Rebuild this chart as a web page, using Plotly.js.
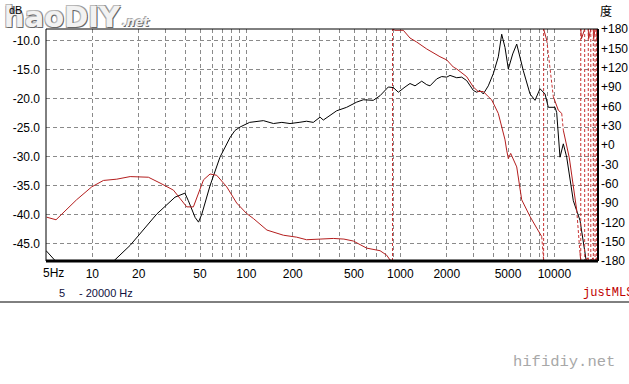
<!DOCTYPE html>
<html>
<head>
<meta charset="utf-8">
<script src="https://cdn.plot.ly/plotly-3.0.1.min.js"></script>
<style>html,body{margin:0;padding:0;background:#fff;}#chart{width:629px;height:384px;}</style>
</head>
<body>
<div id="chart"></div>
<script>
// ---- Data ----
const magFreq = [5, 5.9, 9, 13.7, 17.6, 20.4, 26.2, 34.4, 37.1, 39.9, 42, 46.5, 48.9, 51.4, 58.1, 67.4, 78.4, 84.3, 91, 105, 129, 150, 170, 192, 220, 246, 272, 301, 316, 349, 386, 448, 521, 575, 667, 738, 835, 900, 970, 1072, 1155, 1245, 1376, 1483, 1558, 1722, 1856, 2000, 2101, 2322, 2502, 2696, 2833, 2977, 3131, 3290, 3456, 3724, 4013, 4325, 4549, 4781, 5023, 5364, 5696, 6287, 6950, 7487, 8069, 8694, 9134, 10097, 10351, 10880, 11432, 12023, 13273, 14672, 16218, 17000];
const magDb = [-46.2, -48.3, -52, -48.05, -45.3, -43.3, -39.9, -37.0, -36.7, -36.3, -37.6, -40.5, -41.3, -39.9, -35.0, -30.1, -26.7, -25.5, -24.9, -24.1, -23.8, -24.3, -24.1, -24.3, -24.1, -23.9, -24.1, -23.2, -23.7, -22.9, -22.1, -21.5, -20.6, -20.2, -20.3, -19.5, -18.0, -18.1, -18.9, -18.0, -17.4, -17.8, -17.0, -17.6, -17.8, -16.6, -16.2, -16.3, -16.0, -16.4, -16.3, -16.9, -17.8, -18.6, -18.9, -18.6, -19.2, -17.8, -15.7, -12.8, -8.9, -11.2, -14.9, -12.3, -10.6, -15.2, -19.2, -20.3, -18.3, -19.2, -21.5, -21.5, -22.4, -30.1, -27.8, -30.1, -37.6, -41.0, -48.5, -52];

const phaseFreq = [5.05, 5.81, 7.9, 9.9, 11.8, 14.4, 17.6, 23.1, 27.5, 33.6, 37.1, 41, 45.3, 48.8, 52.7, 58.1, 64.2, 74.6, 86.5, 100, 111, 136, 174, 212, 246, 301, 367, 430, 495, 604, 738, 815, 857, 923, 1045, 1155, 1272, 1483, 1808, 2000, 2207, 2322, 2696, 2977, 3200, 3456, 3724, 3918, 4325, 4549, 4781, 4900, 5023, 5205, 5696, 6136, 6950, 7680, 8276, 8477, 8550, 8917, 9370, 9846, 10607, 11162, 11432, 12500, 13966, 14672, 15000, 16500, 16700, 17800, 18000, 18750, 18900, 19200];
const phaseDeg = [-112, -116, -85, -65, -55, -53, -49, -50, -59, -70, -83, -96, -96, -75, -54, -45, -47, -65, -90, -106, -114, -132, -140, -143, -147, -146, -145, -146, -149, -160, -164, -171, -178.5, 178, 178, 166, 160, 149, 137, 132, 121, 118, 106, 90, 83, 83, 75, 70, 49, 28, 8, -8, -21, -13, -34, -85, -111, -129, -142, -173, 178, 163, 116, 75, 54, 49, 23, -20, -101, -168, 165, -175, 165, -175, 165, -175, 165, 60];

const xLabelVals = [10, 20, 50, 100, 200, 500, 1000, 2000, 5000, 10000];
const dbTicks = [-45, -40, -35, -30, -25, -20, -15, -10];
const phaseTicks = [-180, -150, -120, -90, -60, -30, 0, 30, 60, 90, 120, 150, 180];

// ---- Helpers ----
const PX_PER_DEC = 154, PX_PER_DEG = 232 / 360;
function splitPhase(f, p) {
  const solid = {x: [], y: []}, dashed = {x: [], y: []};
  function add(tr, x1, y1, x2, y2) {
    const n = tr.x.length;
    if (n && tr.x[n - 1] === x1 && tr.y[n - 1] === y1) { tr.x.push(x2); tr.y.push(y2); }
    else { if (n) { tr.x.push(null); tr.y.push(null); } tr.x.push(x1, x2); tr.y.push(y1, y2); }
  }
  for (let i = 0; i < f.length - 1; i++) {
    const d = p[i + 1] - p[i];
    if (Math.abs(d) > 180) {
      const fm = Math.sqrt(f[i] * f[i + 1]);
      const e1 = d > 0 ? -180 : 180, e2 = -e1;
      add(solid, f[i], p[i], fm, e1);
      add(dashed, fm, e1, fm, e2);
      add(solid, fm, e2, f[i + 1], p[i + 1]);
    } else {
      const dx = PX_PER_DEC * Math.log10(f[i + 1] / f[i]);
      const dy = Math.abs(d) * PX_PER_DEG;
      add(dy > 7.5 * dx ? dashed : solid, f[i], p[i], f[i + 1], p[i + 1]);
    }
  }
  return {solid, dashed};
}
const ph = splitPhase(phaseFreq, phaseDeg);

// grid positions on log axis: multiples 1..9 of each decade from 10
const gridVals = [5];
[10, 100, 1000, 10000].forEach(d => { for (let m = 1; m <= 9; m++) { const v = m * d; if (v <= 19200) gridVals.push(v); } });
const gridText = gridVals.map(v => xLabelVals.includes(v) ? String(v) : '');
gridText[0] = '';

const L = 46, R = 598, T = 29, B = 261;
const px = x => (x - L) / (R - L);
const py = y => (B - y) / (B - T);

const tickFont = {family: 'Liberation Sans, Arial, sans-serif', size: 12, color: '#000'};
const gridColor = '#8a8a8a';

const traces = [
  {x: magFreq, y: magDb, type: 'scatter', mode: 'lines', line: {color: '#000', width: 1}, xaxis: 'x', yaxis: 'y', hoverinfo: 'skip'},
  {x: ph.solid.x, y: ph.solid.y, type: 'scatter', mode: 'lines', line: {color: '#b41e1e', width: 1}, yaxis: 'y2', connectgaps: false, hoverinfo: 'skip'},
  {x: ph.dashed.x, y: ph.dashed.y, type: 'scatter', mode: 'lines', line: {color: '#c83232', width: 1, dash: '3px,2px'}, yaxis: 'y2', connectgaps: false, hoverinfo: 'skip'}
];

const layout = {
  width: 629, height: 384,
  margin: {l: L, r: 629 - R, t: T, b: 384 - B, pad: 0},
  paper_bgcolor: '#fff', plot_bgcolor: '#fff',
  showlegend: false,
  xaxis: {
    type: 'log', range: [Math.log10(5), Math.log10(19200)],
    tickmode: 'array', tickvals: gridVals, ticktext: gridText,
    showgrid: true, gridcolor: gridColor, griddash: '4px,3px', gridwidth: 1,
    ticks: '', tickfont: tickFont, ticklabelstandoff: 4,
    showline: false, zeroline: false, fixedrange: true
  },
  yaxis: {
    range: [-48, -8],
    tickmode: 'array', tickvals: dbTicks, ticktext: dbTicks.map(v => v.toFixed(1)),
    showgrid: true, gridcolor: gridColor, griddash: '4px,3px', gridwidth: 1,
    ticks: '', tickfont: tickFont, ticklabelstandoff: 5,
    showline: false, zeroline: false, fixedrange: true
  },
  yaxis2: {
    overlaying: 'y', side: 'right', range: [-180, 180],
    tickmode: 'array', tickvals: phaseTicks, ticktext: phaseTicks.map(v => v > 0 ? '+' + v : (v === 0 ? '+0' : String(v))),
    showgrid: false, ticks: '', tickfont: tickFont, ticklabelstandoff: 2,
    showline: false, zeroline: false, fixedrange: true
  },
  shapes: [
    {type: 'line', xref: 'paper', yref: 'paper', x0: 0, x1: 1, y0: 1, y1: 1, line: {color: '#000', width: 1}},
    {type: 'line', xref: 'paper', yref: 'paper', x0: 0, x1: 0, y0: 0, y1: 1, line: {color: '#000', width: 1}},
    {type: 'line', xref: 'paper', yref: 'paper', x0: 0, x1: 1, y0: 0, y1: 0, line: {color: '#000', width: 3}},
    {type: 'line', xref: 'paper', yref: 'paper', x0: 1, x1: 1, y0: 0, y1: 1, line: {color: '#000', width: 2}},
    {type: 'line', xref: 'paper', yref: 'paper', x0: px(0), x1: px(629), y0: py(302), y1: py(302), line: {color: '#000', width: 1}}
  ],
  annotations: [
    {text: '<b>haoDIY</b>', xref: 'paper', yref: 'paper', x: px(2), y: py(17), xanchor: 'left', yanchor: 'middle', showarrow: false,
     font: {family: 'DejaVu Sans, sans-serif', size: 29, color: '#f2f2f2', shadow: '1px 1px 0 #666, -1px -1px 0 #bbb, 1px -1px 0 #999, -1px 1px 0 #999'}},
    {text: '<b><i>.net</i></b>', xref: 'paper', yref: 'paper', x: px(120), y: py(22), xanchor: 'left', yanchor: 'middle', showarrow: false,
     font: {family: 'DejaVu Sans, sans-serif', size: 12, color: '#f2f2f2', shadow: '1px 1px 0 #666, -1px -1px 0 #aaa'}},
    {text: 'dB', xref: 'paper', yref: 'paper', x: px(15), y: py(10), xanchor: 'center', yanchor: 'middle', showarrow: false,
     font: {family: 'Liberation Sans, Arial, sans-serif', size: 11, color: '#000'}},
    {text: '度', xref: 'paper', yref: 'paper', x: px(606), y: py(11), xanchor: 'center', yanchor: 'middle', showarrow: false,
     font: {family: 'Noto Sans CJK SC, sans-serif', size: 12, color: '#000'}},
    {text: '5Hz', xref: 'x', yref: 'paper', x: Math.log10(5), y: py(273), xanchor: 'center', yanchor: 'middle', xshift: 7, showarrow: false,
     font: tickFont},
    {text: '5', xref: 'paper', yref: 'paper', x: px(62), y: py(293), xanchor: 'center', yanchor: 'middle', showarrow: false,
     font: {family: 'Liberation Sans, Arial, sans-serif', size: 11, color: '#101040'}},
    {text: '- 20000 Hz', xref: 'paper', yref: 'paper', x: px(77), y: py(293), xanchor: 'left', yanchor: 'middle', showarrow: false,
     font: {family: 'Liberation Sans Narrow, Liberation Sans, Arial, sans-serif', size: 11, color: '#101040'}},
    {text: 'justMLS', xref: 'paper', yref: 'paper', x: px(581), y: py(293), xanchor: 'left', yanchor: 'middle', showarrow: false,
     font: {family: 'Liberation Mono, Courier New, monospace', size: 12, color: '#c00000'}},
    {text: 'hifidiy.net', xref: 'paper', yref: 'paper', x: px(511), y: py(362), xanchor: 'left', yanchor: 'middle', showarrow: false,
     font: {family: 'Liberation Mono, Courier New, monospace', size: 15.5, color: '#a8a8a8'}}
  ]
};

Plotly.newPlot('chart', traces, layout, {staticPlot: true, displayModeBar: false});
</script>
</body>
</html>
